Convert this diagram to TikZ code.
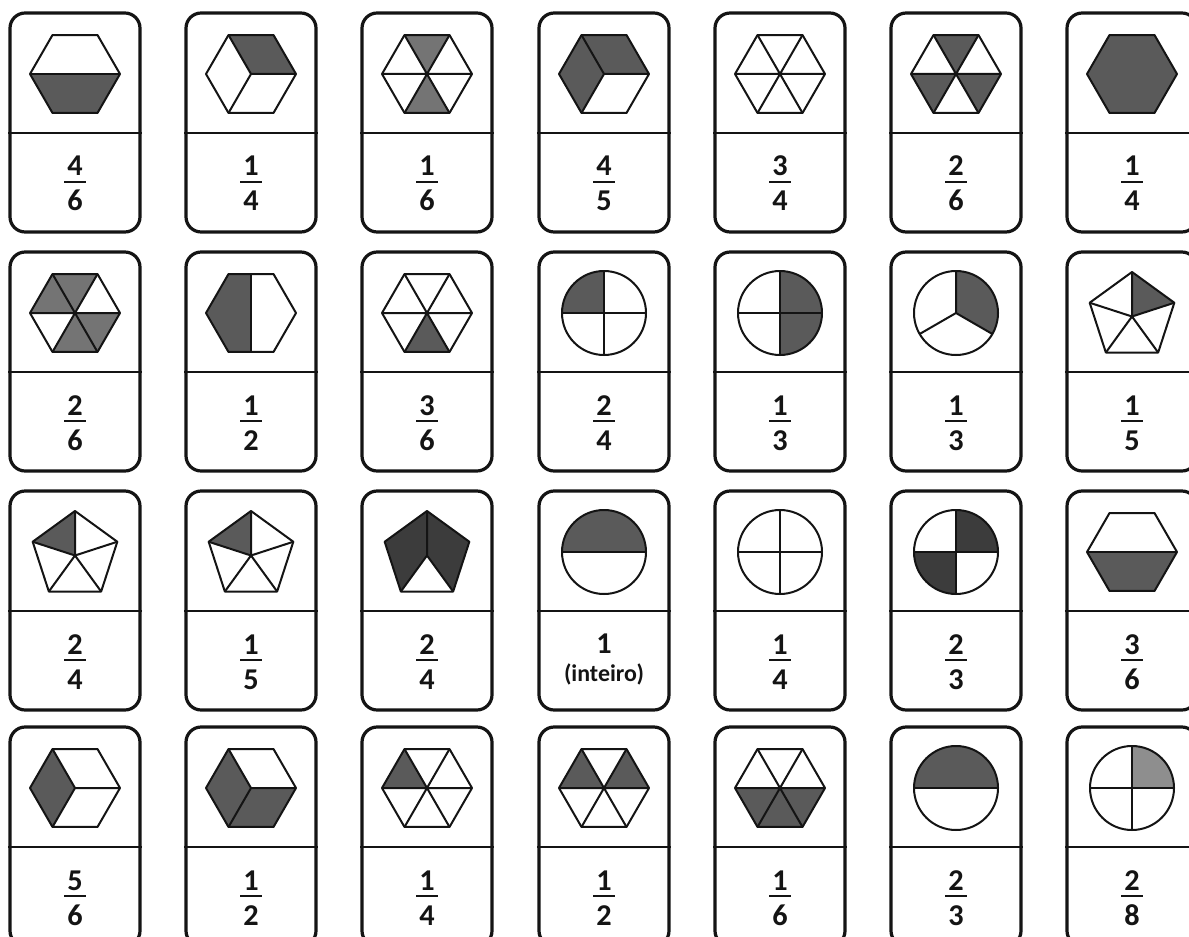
\documentclass[tikz,border=0pt]{standalone}
\usepackage{fontspec}
\setmainfont{Carlito}
\definecolor{ink}{HTML}{141414}
\definecolor{tone}{HTML}{5A5A5A}
\definecolor{tonelight}{HTML}{747474}
\definecolor{tonedark}{HTML}{3C3C3C}
\definecolor{tonepale}{HTML}{8E8E8E}
\tikzset{
  every node/.style={text=ink},
  card/.style={draw=ink, fill=white, rounded corners=3.8mm, line width=.8mm,
    minimum width=32.5mm, minimum height=54.75mm, inner sep=0pt},
  divider/.style={draw=ink, line width=.72mm},
  part/.style={draw=ink, line width=.5mm, line join=round},
  tinted/.style={fill=tone},
  tintlight/.style={fill=tonelight},
  tintdark/.style={fill=tonedark},
  tintpale/.style={fill=tonepale},
  numtext/.style={font=\fontsize{21.5}{24}\selectfont\bfseries, inner sep=0pt},
  wordtext/.style={font=\fontsize{17}{20}\selectfont\bfseries, inner sep=0pt},
  fracbar/.style={draw=ink, line width=.55mm},
  pent/.style={yshift=-.875mm}
}

% Hexagon pieces (radius 45px, flat top and bottom).
\newcommand\hexrim{\draw[part] (0:45) -- (60:45) -- (120:45) -- (180:45)
  -- (240:45) -- (300:45) -- cycle;}
\newcommand\hexlines{\hexrim
  \draw[part] (0:45) -- (180:45) (60:45) -- (240:45) (120:45) -- (300:45);}
\newcommand\hexwedge[2][tinted]{\fill[#1] (0,0) -- (#2:45) -- (#2+60:45) -- cycle;}
\newcommand\rhomb[2][tinted]{\fill[#1] (0,0) -- (#2:45) -- (#2+60:45)
  -- (#2+120:45) -- cycle;}
\newcommand\cubelines{\hexrim
  \draw[part] (0,0) -- (120:45) (0,0) -- (0:45) (0,0) -- (240:45);}
\newcommand\hexlow{\fill[tinted] (180:45) -- (240:45) -- (300:45) -- (0:45) -- cycle;
  \hexrim \draw[part] (180:45) -- (0:45);}
\newcommand\hexleft{\fill[tinted] (0,38.97) -- (120:45) -- (180:45) -- (240:45)
  -- (0,-38.97) -- cycle; \hexrim \draw[part] (0,38.97) -- (0,-38.97);}
\newcommand\hexfull{\fill[tinted] (0:45) -- (60:45) -- (120:45) -- (180:45)
  -- (240:45) -- (300:45) -- cycle; \hexrim}

% Circle pieces (radius 42px).
\newcommand\circrim{\draw[part] (0,0) circle[radius=42];}
\newcommand\sector[3][tinted]{\fill[#1] (0,0) -- (#2:42)
  arc[start angle=#2, end angle=#3, radius=42] -- cycle;}
\newcommand\quarterlines{\circrim \draw[part] (-42,0) -- (42,0) (0,-42) -- (0,42);}
\newcommand\halfline{\circrim \draw[part] (-42,0) -- (42,0);}
\newcommand\thirdlines{\circrim
  \draw[part] (0,0) -- (90:42) (0,0) -- (210:42) (0,0) -- (330:42);}

% Pentagon pieces (radius 44.5px, point up).
\newcommand\pentrim{\draw[part] (90:44.5) -- (162:44.5) -- (234:44.5)
  -- (306:44.5) -- (18:44.5) -- cycle;}
\newcommand\pentwedge[2][tinted]{\fill[#1] (0,0) -- (#2:44.5) -- (#2+72:44.5) -- cycle;}
\newcommand\pentlines{\pentrim
  \draw[part] (0,0) -- (90:44.5) (0,0) -- (162:44.5) (0,0) -- (234:44.5)
  (0,0) -- (306:44.5) (0,0) -- (18:44.5);}

% Card outline: name, centre x, top y (px, counted downwards).
\newcommand\cardbody[3]{%
  \node[card] (#1) at (#2,-#3-109.5) {};
  \draw[divider] ([yshift=-2.625mm]#1.west) -- ([yshift=-2.625mm]#1.east);}
% Whole domino: name, centre x, top y, picture, numerator, denominator.
\newcommand\domino[6]{%
  \cardbody{#1}{#2}{#3}
  \begin{scope}[shift={(#2,-#3-61)}]#4\end{scope}
  \node[numtext, anchor=base] (#1n) at (#2,-#3-163) {#5};
  \draw[fracbar] (#2-11,-#3-169) -- (#2+11,-#3-169);
  \node[numtext, anchor=base] (#1d) at (#2,-#3-198) {#6};}

\begin{document}
\begin{tikzpicture}[x=.25mm,y=.25mm]

% Page frame: the last row and column run past the sheet edge.
\useasboundingbox (0,0) rectangle (1189,-937);
\fill[white] (0,0) rectangle (1189,-937);
\clip (0,0) rectangle (1189,-937);

% Row 1
\domino{r1c1}{75}{13}{\hexlow}{4}{6}
\domino{r1c2}{251}{13}{\rhomb{0}\cubelines}{1}{4}
\domino{r1c3}{427}{13}{\hexwedge[tintlight]{60}\hexwedge[tintlight]{240}\hexlines}{1}{6}
\domino{r1c4}{604}{13}{\rhomb{0}\rhomb{120}\cubelines}{4}{5}
\domino{r1c5}{780}{13}{\hexlines}{3}{4}
\domino{r1c6}{956}{13}{\hexwedge{60}\hexwedge{180}\hexwedge{300}\hexlines}{2}{6}
\domino{r1c7}{1132}{13}{\hexfull}{1}{4}

% Row 2
\domino{r2c1}{75}{252}{\hexwedge[tintlight]{60}\hexwedge[tintlight]{120}%
  \hexwedge[tintlight]{240}\hexwedge[tintlight]{300}\hexlines}{2}{6}
\domino{r2c2}{251}{252}{\hexleft}{1}{2}
\domino{r2c3}{427}{252}{\hexwedge{240}\hexlines}{3}{6}
\domino{r2c4}{604}{252}{\sector{90}{180}\quarterlines}{2}{4}
\domino{r2c5}{780}{252}{\sector{-90}{90}\quarterlines}{1}{3}
\domino{r2c6}{956}{252}{\sector{-30}{90}\thirdlines}{1}{3}
\domino{r2c7}{1132}{252}{\begin{scope}[pent]\pentwedge{18}\pentlines\end{scope}}{1}{5}

% Row 3
\domino{r3c1}{75}{491}{\begin{scope}[pent]\pentwedge{90}\pentlines\end{scope}}{2}{4}
\domino{r3c2}{251}{491}{\begin{scope}[pent]\pentwedge{90}\pentlines\end{scope}}{1}{5}
\domino{r3c3}{427}{491}{\begin{scope}[pent]
  \fill[tintdark] (0,0) -- (90:44.5) -- (162:44.5) -- (234:44.5) -- cycle
    (0,0) -- (306:44.5) -- (18:44.5) -- (90:44.5) -- cycle;
  \pentrim
  \draw[part] (0,0) -- (90:44.5) (0,0) -- (234:44.5) (0,0) -- (306:44.5);
  \end{scope}}{2}{4}
% the whole card has a word under its number
\cardbody{r3c4}{604}{491}
\begin{scope}[shift={(604,-552)}]\sector{0}{180}\halfline\end{scope}
\node[numtext, anchor=base] (r3c4n) at (604,-653) {1};
\node[wordtext, anchor=base] (r3c4w) at (604,-681.5) {(inteiro)};
\domino{r3c5}{780}{491}{\quarterlines}{1}{4}
\domino{r3c6}{956}{491}{\sector[tintdark]{0}{90}\sector[tintdark]{180}{270}%
  \quarterlines}{2}{3}
\domino{r3c7}{1132}{491}{\hexlow}{3}{6}

% Row 4
\domino{r4c1}{75}{727}{\rhomb{120}\cubelines}{5}{6}
\domino{r4c2}{251}{727}{\rhomb{120}\rhomb{240}\cubelines}{1}{2}
\domino{r4c3}{427}{727}{\hexwedge{120}\hexlines}{1}{4}
\domino{r4c4}{604}{727}{\hexwedge{120}\hexwedge{0}\hexlines}{1}{2}
\domino{r4c5}{780}{727}{\hexwedge{180}\hexwedge{240}\hexwedge{300}\hexlines}{1}{6}
\domino{r4c6}{956}{727}{\sector{0}{180}\halfline}{2}{3}
\domino{r4c7}{1132}{727}{\sector[tintpale]{0}{90}\quarterlines}{2}{8}

\end{tikzpicture}
\end{document}
